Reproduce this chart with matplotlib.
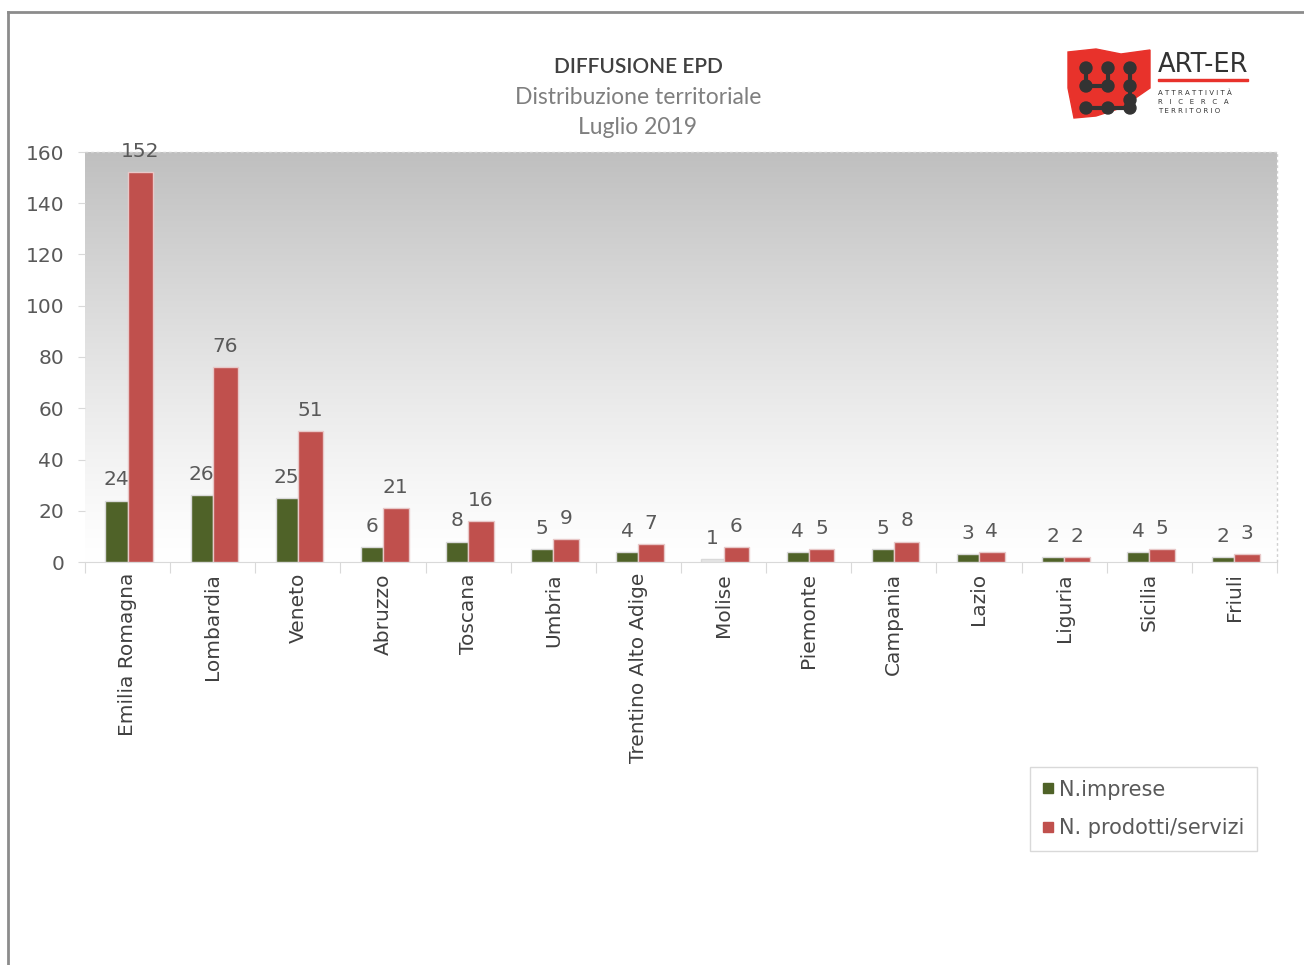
import numpy as np
import matplotlib
matplotlib.use("Agg")
from matplotlib import pyplot as plt
from matplotlib.patches import Polygon, Circle, Rectangle
from matplotlib.lines import Line2D

regioni = ['Emilia Romagna', 'Lombardia', 'Veneto', 'Abruzzo', 'Toscana', 'Umbria',
           'Trentino Alto Adige', 'Molise', 'Piemonte', 'Campania', 'Lazio', 'Liguria',
           'Sicilia', 'Friuli']
imprese = [24, 26, 25, 6, 8, 5, 4, 1, 4, 5, 3, 2, 4, 2]
prodotti = [152, 76, 51, 21, 16, 9, 7, 6, 5, 8, 4, 2, 5, 3]
yticks = [0, 20, 40, 60, 80, 100, 120, 140, 160]

verde = '#4f6228'
rosso = '#c0504d'
grigio = '#595959'

W, H = 1304, 965
fig = plt.figure(figsize=(W / 100, H / 100), dpi=100)
fig.patch.set_facecolor('white')

ax = fig.add_axes([85 / W, 1 - 562 / H, (1277 - 85) / W, (562 - 152) / H])
ax.set_xlim(0, len(regioni))
ax.set_ylim(0, 160)

# sfondo sfumato grigio -> bianco
grad = np.linspace(1, 0, 256).reshape(-1, 1)
top = np.array([0.75, 0.75, 0.75])
t = np.clip(grad, 0, 1) ** 1.2
cols = (1 - t[..., None]) * np.array([1, 1, 1]) + t[..., None] * top
ax.imshow(cols, extent=[0, len(regioni), 0, 160], aspect='auto', zorder=0,
          interpolation='bicubic')

x = np.arange(len(regioni)) + 0.5
wg, wr = 0.26, 0.30
col_g = [verde] * len(imprese)
col_g[7] = '#e6e6e6'
ax.bar(x - wg / 2, imprese, width=wg, color=col_g, edgecolor='#d9d9d9', linewidth=1, zorder=3)
ax.bar(x + wr / 2, prodotti, width=wr, color=rosso, edgecolor='#e8c8c8', linewidth=1, zorder=3)

for xi, v in zip(x - wg / 2, imprese):
    ax.annotate(str(v), (xi, v), xytext=(0, 8), textcoords='offset points',
                ha='center', va='bottom', fontsize=14.5, color=grigio, zorder=5)
for xi, v in zip(x + wr / 2, prodotti):
    ax.annotate(str(v), (xi, v), xytext=(0, 8), textcoords='offset points',
                ha='center', va='bottom', fontsize=14.5, color=grigio, zorder=5)

# bordo tratteggiato sopra e a destra
ax.plot([0, len(regioni)], [160, 160], ls=(0, (2, 2)), color='#d0d0d0', lw=1, zorder=4, clip_on=False)
ax.plot([len(regioni)] * 2, [0, 160], ls=(0, (2, 2)), color='#d0d0d0', lw=1, zorder=4, clip_on=False)

for s in ['top', 'right', 'left']:
    ax.spines[s].set_visible(False)
ax.spines['bottom'].set_color('#d9d9d9')

ax.set_yticks(yticks)
ax.tick_params(axis='y', length=5, color='#d9d9d9', labelcolor=grigio, labelsize=14.5, pad=10)
ax.set_xticks(np.arange(len(regioni) + 1), minor=False)
ax.set_xticklabels([])
ax.tick_params(axis='x', which='major', length=8, color='#d9d9d9')
ax.set_xticks(x, minor=True)
ax.set_xticklabels(regioni, minor=True, rotation=90, fontsize=14.5, color='#404040')
ax.tick_params(axis='x', which='minor', length=0, pad=8)

# titolo
fig.text(638 / W, 1 - 67 / H, 'DIFFUSIONE EPD', ha='center', va='center',
         fontsize=15, color='#404040', family='Lato', weight='semibold')
fig.text(638 / W, 1 - 97 / H, 'Distribuzione territoriale', ha='center', va='center',
         fontsize=16.5, color='#7f7f7f', family='Lato')
fig.text(638 / W, 1 - 127 / H, 'Luglio 2019', ha='center', va='center',
         fontsize=16.5, color='#7f7f7f', family='Lato')

# legenda
handles = [Line2D([], [], marker='s', ls='', color=verde, markersize=7),
           Line2D([], [], marker='s', ls='', color=rosso, markersize=7)]
leg = fig.legend(handles, ['N.imprese', 'N. prodotti/servizi'],
                 loc='upper left', bbox_to_anchor=(1030 / W, 1 - 767 / H), borderaxespad=0,
                 fontsize=15, frameon=True, fancybox=False, handlelength=0.5,
                 handletextpad=0.3, labelspacing=0.9, borderpad=0.6, labelcolor=grigio)
leg.get_frame().set_edgecolor('#d0d0d0')
leg.get_frame().set_linewidth(1)

# cornice
fig.add_artist(Line2D([8 / W, 8 / W], [0, 1 - 12 / H], color='#8c8c8c', lw=2))
fig.add_artist(Line2D([8 / W, 1], [1 - 12 / H, 1 - 12 / H], color='#8c8c8c', lw=2))

# logo ART-ER
lg = fig.add_axes([1066 / W, 1 - 120 / H, 190 / W, 72 / H])
lg.set_xlim(0, 190)
lg.set_ylim(72, 0)
lg.axis('off')
lg.add_patch(Polygon([[2, 4], [30, 1], [55, 6], [84, 2], [84, 40], [55, 60], [30, 68], [8, 70], [2, 40]],
                     closed=True, color='#e8322b', zorder=1))
dots = [(20, 20), (42, 20), (64, 20), (20, 38), (42, 38), (64, 38), (64, 52),
        (20, 60), (42, 60), (64, 60)]
for (cx, cy) in dots:
    lg.add_patch(Circle((cx, cy), 6, color='#333333', zorder=3))
for seg in [((20, 20), (20, 38)), ((42, 20), (42, 38)), ((64, 20), (64, 60)),
            ((20, 38), (42, 38)), ((20, 60), (64, 60))]:
    lg.plot([seg[0][0], seg[1][0]], [seg[0][1], seg[1][1]], color='#333333', lw=3, zorder=2)
lg.text(92, 17, 'ART-ER', fontsize=18.5, color='#333333', family='DejaVu Sans', va='center', ha='left')
lg.add_patch(Rectangle((92, 31), 90, 2, color='#e8322b'))
lg.text(92, 45, 'A T T R A T T I V I T À', fontsize=5, color='#333333', va='center')
lg.text(92, 54, 'R   I   C   E   R   C   A', fontsize=5, color='#333333', va='center')
lg.text(92, 63, 'T E R R I T O R I O', fontsize=5, color='#333333', va='center')

fig.savefig('out.png', dpi=100)
